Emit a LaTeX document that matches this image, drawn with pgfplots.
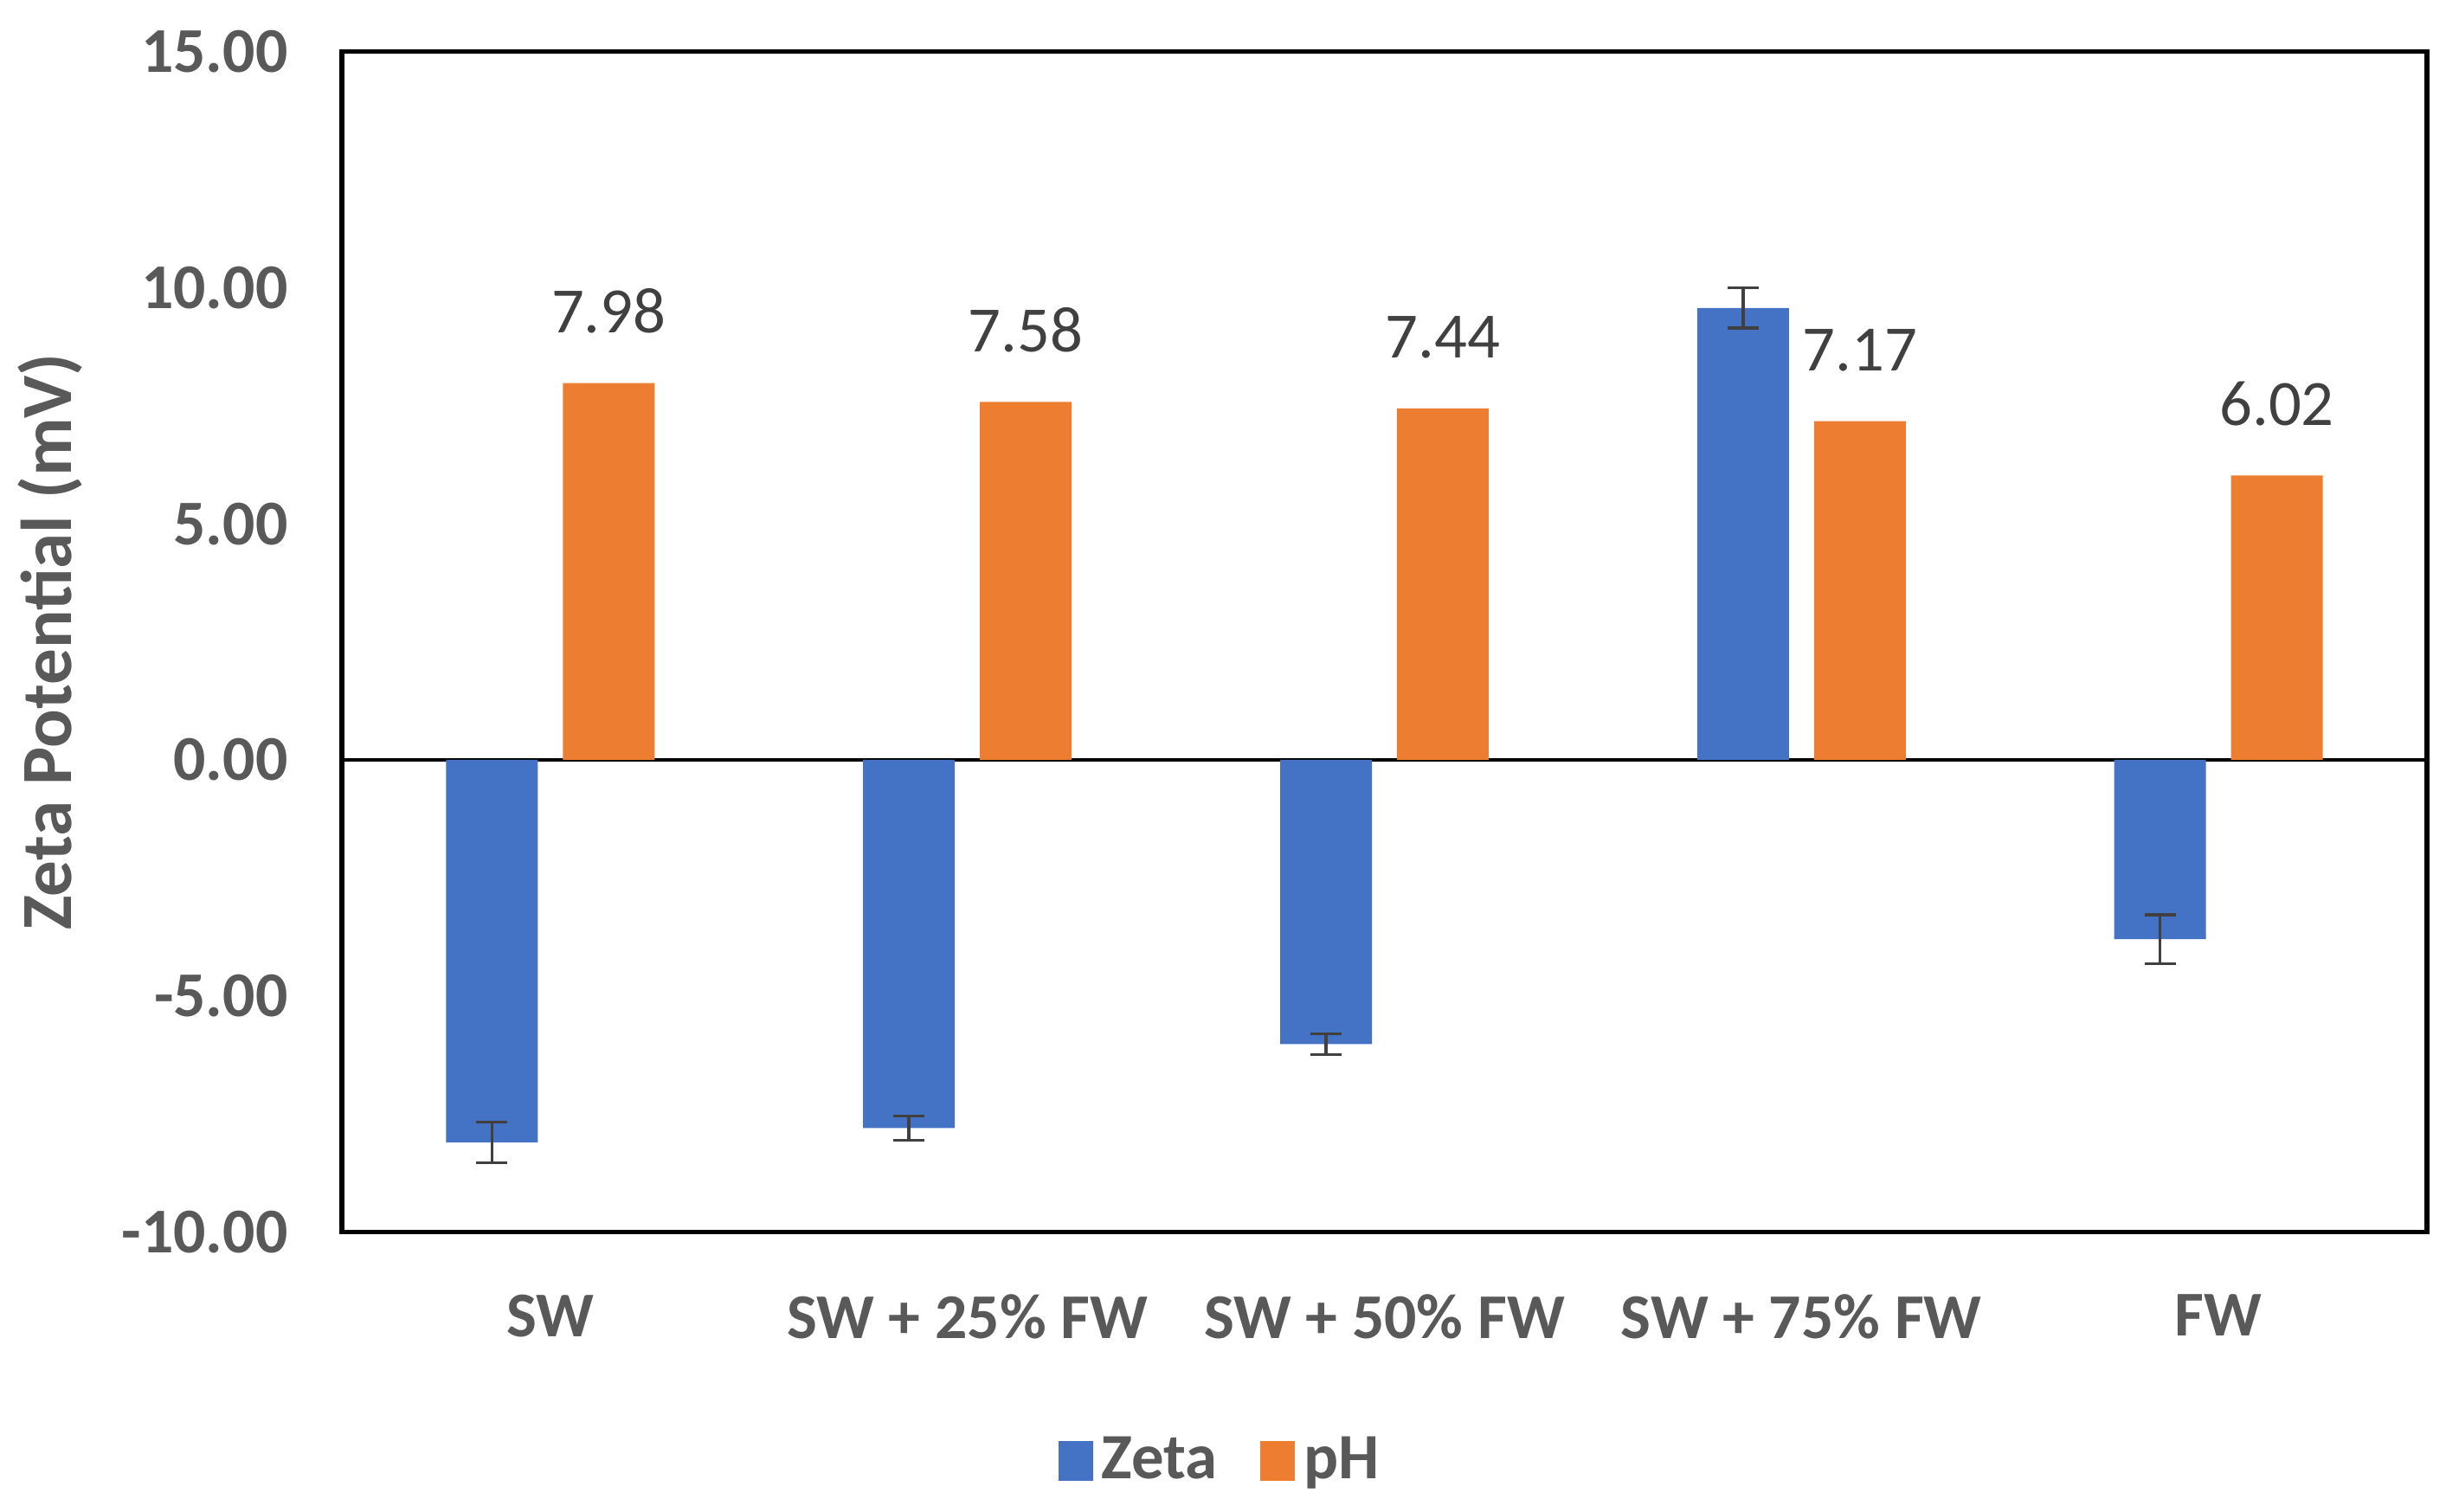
\documentclass[border=0pt]{standalone}
\usepackage{pgfplots}
\pgfplotsset{compat=1.18}
\usepackage{fontspec}
\setmainfont{Carlito}
\definecolor{zetablue}{HTML}{4472C4}
\definecolor{phorange}{HTML}{ED7D31}
\definecolor{labelgray}{HTML}{595959}
\definecolor{datagray}{HTML}{404040}
\begin{document}
\begin{tikzpicture}
\begin{axis}[
  scale only axis,
  width=481.8bp, height=272.8bp,
  ybar,
  bar width=0.22,
  xmin=-0.5, xmax=4.5,
  ymin=-10, ymax=15,
  xtick={0,1,2,3,4},
  xticklabels={SW, SW + 25\% FW, SW + 50\% FW, SW + 75\% FW, FW},
  ytick={-10,-5,0,5,10,15},
  yticklabels={-10.00,-5.00,0.00,5.00,10.00,15.00},
  major tick length=0pt,
  axis line style={black, line width=1.1bp},
  tick label style={font=\fontsize{14.8}{16}\selectfont\bfseries, text=labelgray},
  xticklabel style={yshift=-11bp},
  yticklabel style={xshift=-9bp},
  extra y ticks={0},
  extra y tick labels={},
  extra y tick style={grid=major, grid style={black, line width=0.8bp}},
  ylabel={Zeta Potential (mV)},
  every axis y label/.style={at={(axis description cs:0,0.5)}, xshift=-67.5bp,
    rotate=90, anchor=center, font=\fontsize{16.7}{18}\selectfont\bfseries, text=labelgray},
  legend style={draw=none, at={(0.4226,-0.194)}, anchor=center,
    legend columns=-1, font=\fontsize{15}{16}\selectfont\bfseries, text=labelgray,
    /tikz/every even column/.append style={column sep=8bp},
    inner sep=1bp},
  legend image code/.code={\fill[#1] (0bp,-4.6bp) rectangle (8bp,4.6bp);},
]
\addplot[fill=zetablue, draw=none, bar shift=-0.14,
  error bars/.cd, y dir=both, y explicit,
  error bar style={datagray, line width=0.7bp},
  error mark options={datagray, rotate=90, mark size=3.6bp, line width=0.7bp}]
  coordinates {
  (0,-8.10) +- (0,0.43)
  (1,-7.80) +- (0,0.26)
  (2,-6.02) +- (0,0.22)
  (3,9.57)  +- (0,0.43)
  (4,-3.80) +- (0,0.52)
};
\addlegendentry{Zeta}
\addplot[fill=phorange, draw=none, bar shift=0.14,
  nodes near coords,
  nodes near coords style={font=\fontsize{15}{17}\selectfont, text=datagray,
    /pgf/number format/fixed, /pgf/number format/precision=2,
    /pgf/number format/fixed zerofill, /pgf/number format/assume math mode=true,
    yshift=8bp}]
  coordinates {
  (0,7.98)
  (1,7.58)
  (2,7.44)
  (3,7.17)
  (4,6.02)
};
\addlegendentry{pH}
\end{axis}
\pgfresetboundingbox
\useasboundingbox ([xshift=-79bp,yshift=-64.7bp]current axis.south west)
  rectangle ([xshift=4.4bp,yshift=11.9bp]current axis.north east);
\end{tikzpicture}
\end{document}
